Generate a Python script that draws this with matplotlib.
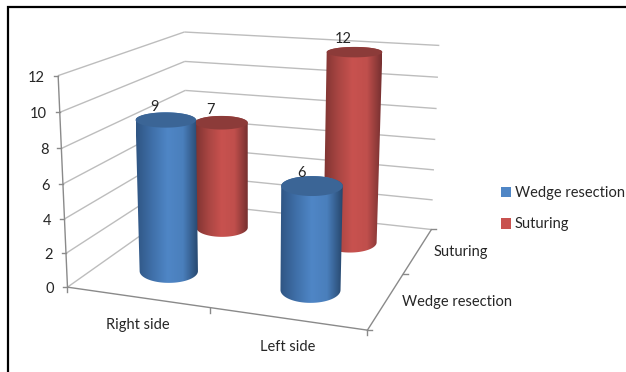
import numpy as np
import matplotlib
matplotlib.use("Agg")
import matplotlib.pyplot as plt
from matplotlib.colors import LinearSegmentedColormap
from matplotlib.patches import PathPatch, Polygon, Patch
from matplotlib.path import Path

plt.rcParams['font.family'] = ['Lato', 'DejaVu Sans']

# Chart data
categories = ["Right side", "Left side"]
series_names = ["Wedge resection", "Suturing"]
wedge_resection = [9, 6]
suturing = [7, 12]
value_ticks = [0, 2, 4, 6, 8, 10, 12]

W, H = 626, 372
TEXT = "#262626"
fig = plt.figure(figsize=(W / 100, H / 100), dpi=100)
ax = fig.add_axes([0, 0, 1, 1])


def fit_camera():
    """Fit a 3x4 projective camera from box corners (category, series, value) to canvas pixels."""
    pairs = [
        ((0, 0, 12), (58, 75)), ((0, 0, 10), (59.5, 112)), ((0, 0, 8), (61, 149)),
        ((0, 0, 6), (63, 184)), ((0, 0, 4), (65, 219)), ((0, 0, 2), (66, 253)),
        ((0, 0, 0), (68, 288)),
        ((0, 2, 12), (185, 32)), ((0, 2, 10), (185, 61.5)), ((0, 2, 8), (185, 91)),
        ((0, 2, 0), (186, 202)),
        ((2, 2, 12), (439, 45)), ((2, 2, 10), (438, 77)), ((2, 2, 8), (436.5, 109)),
        ((2, 2, 6), (435, 140)), ((2, 2, 4), (434, 170)), ((2, 2, 2), (433, 200)),
        ((2, 2, 0), (432, 229)),
        ((2, 0, 0), (367, 330)),
    ]
    rows = []
    for (a, b, c), (x, y) in pairs:
        p = [a, b, c, 1]
        rows.append(p + [0, 0, 0, 0] + [-x * q for q in p])
        rows.append([0, 0, 0, 0] + p + [-y * q for q in p])
    return np.linalg.svd(np.array(rows, float))[2][-1].reshape(3, 4)


CAMERA = fit_camera()


def project(u, v, w):
    """Map box coordinates to canvas pixel coordinates."""
    u, v, w = np.broadcast_arrays(np.asarray(u, float), np.asarray(v, float), np.asarray(w, float))
    h = CAMERA @ np.stack([u.ravel(), v.ravel(), w.ravel(), np.ones(u.size)])
    return h[0] / h[2], h[1] / h[2]


def seg(a, b, color, lw=1.0, z=1):
    xa, ya = project(*a)
    xb, yb = project(*b)
    ax.plot([xa[0], xb[0]], [ya[0], yb[0]], color=color, lw=lw, zorder=z, solid_capstyle="butt")


# Walls and floor
GRID = "#bdbdbd"
AXIS = "#8a8a8a"
for t in value_ticks:
    seg((0, 0, t), (0, 2, t), GRID)
    seg((0, 2, t), (2, 2, t), GRID)
seg((0, 0, 0), (0, 0, value_ticks[-1]), AXIS)
seg((0, 0, 0), (2, 0, 0), AXIS)
seg((2, 0, 0), (2, 2, 0), AXIS)

# Tick marks and axis labels
for t in value_ticks:
    x, y = project(0, 0, t)
    ax.plot([x[0] - 4, x[0]], [y[0], y[0]], color=AXIS, lw=1.0, zorder=1)
    ax.text(x[0] - 13, y[0] + 2, str(t), ha="right", va="center", fontsize=10.5, color=TEXT)
for i in range(len(categories) + 1):
    x, y = project(i, 0, 0)
    ax.plot([x[0], x[0]], [y[0], y[0] + 5], color=AXIS, lw=1.0, zorder=1)
for i in range(len(series_names) + 1):
    x, y = project(2, i, 0)
    ax.plot([x[0], x[0] + 5], [y[0], y[0]], color=AXIS, lw=1.0, zorder=1)
for i, name in enumerate(categories):
    x, y = project(i + 0.5, 0, 0)
    ax.text(x[0] + 1, y[0] + 28, name, ha="center", va="center", fontsize=10.5, color=TEXT)
for i, name in enumerate(series_names):
    x, y = project(2, i + 0.5, 0)
    ax.text(x[0] + 15, y[0] + 2, name, ha="left", va="center", fontsize=10.5, color=TEXT)

# Cylinders
RU, RV = 0.19, 0.23
SHADES = {
    0: (["#2f5583", "#3f6fa8", "#4f86c6", "#4a7fbc", "#26466c"], "#3b6596"),
    1: (["#7d3331", "#a84542", "#c8524f", "#c04f4c", "#763030"], "#8c3b39"),
}
theta = np.linspace(0, 2 * np.pi, 121)


def disc(uc, vc, w):
    """Upright ellipse for a cylinder cross-section at height w."""
    x, y = project(uc + RU * np.cos(theta), vc + RV * np.sin(theta), w)
    cx, cy = project(uc, vc, w)
    rx = (x.max() - x.min()) / 2
    ry = (y.max() - y.min()) / 2
    return cx[0] + rx * np.cos(theta), cy[0] + ry * np.sin(theta)


def hull(points):
    pts = sorted(map(tuple, points))
    def half(seq):
        out = []
        for p in seq:
            while len(out) > 1 and (out[-1][0] - out[-2][0]) * (p[1] - out[-2][1]) - (out[-1][1] - out[-2][1]) * (p[0] - out[-2][0]) <= 0:
                out.pop()
            out.append(p)
        return out[:-1]
    return np.array(half(pts) + half(pts[::-1]))


z = 3
for s, values in reversed(list(enumerate([wedge_resection, suturing]))):
    stops, lid = SHADES[s]
    cmap = LinearSegmentedColormap.from_list(series_names[s], stops)
    for c, value in enumerate(values):
        uc, vc = c + 0.5, s + 0.5
        bx, by = disc(uc, vc, 0)
        tx, ty = disc(uc, vc, value)
        outline = hull(np.c_[np.r_[bx, tx], np.r_[by, ty]])
        body = PathPatch(Path(np.vstack([outline, outline[:1]]), closed=True),
                         fc="none", ec="none", transform=ax.transData, zorder=z)
        ax.add_patch(body)
        extent = [outline[:, 0].min(), outline[:, 0].max(), outline[:, 1].max(), outline[:, 1].min()]
        im = ax.imshow(np.linspace(0, 1, 128)[None, :], cmap=cmap, extent=extent,
                       aspect="auto", zorder=z, interpolation="bilinear")
        im.set_clip_path(body)
        ax.add_patch(Polygon(np.c_[tx, ty], closed=True, fc=lid, ec="none", zorder=z + 0.5))
        lx, ly = project(uc, vc, value)
        ax.text(lx[0] - 11, ly[0] - 13, str(value), ha="center", va="center",
                fontsize=10.5, color=TEXT, zorder=20)
        z += 1

# Legend
handles = [Patch(fc=SHADES[i][0][2], ec="none", label=series_names[i]) for i in range(2)]
ax.legend(handles=handles, loc="upper left", bbox_to_anchor=(498 / W, 1 - 183 / H), frameon=False,
          fontsize=10.5, labelcolor=TEXT, handlelength=0.72, handleheight=0.72, handletextpad=0.22,
          labelspacing=1.2, borderpad=0.2, borderaxespad=0)

# Outer frame on the left and top
ax.plot([8, 8, W], [H, 6.5, 6.5], color="black", lw=1.6, zorder=30, solid_joinstyle="miter")

ax.set_xlim(0, W)
ax.set_ylim(H, 0)
ax.axis("off")
fig.savefig("out.png", dpi=100, facecolor="white")
